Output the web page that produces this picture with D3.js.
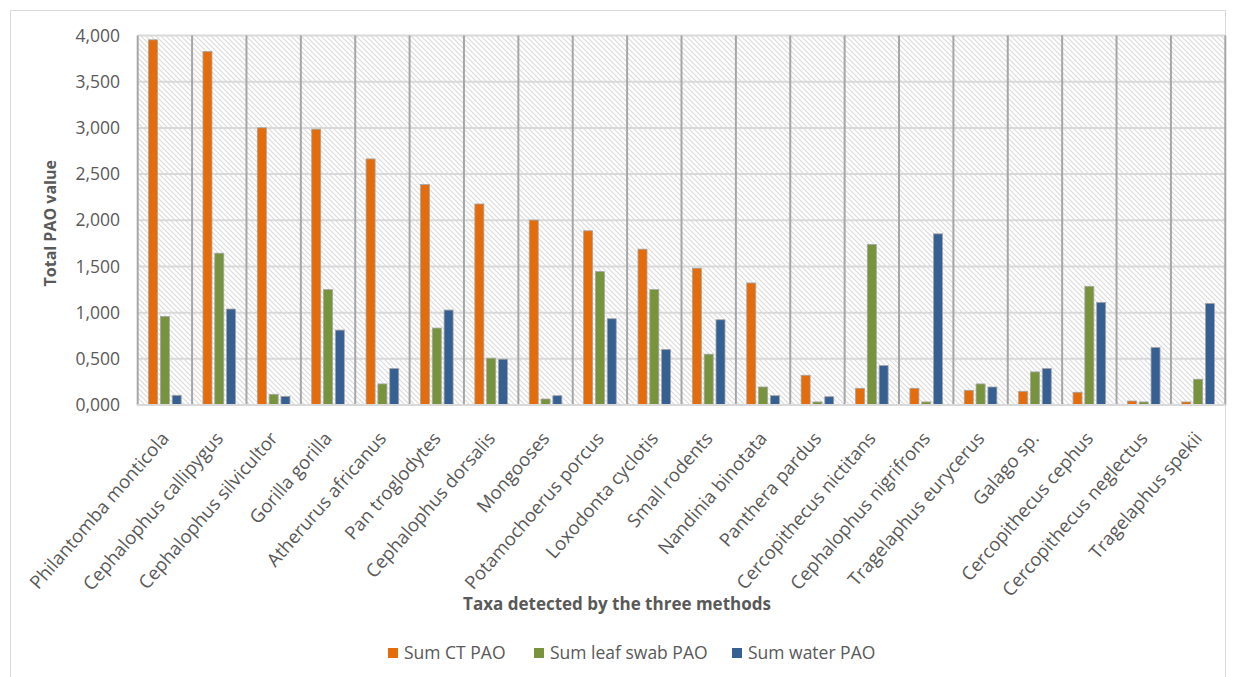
<!DOCTYPE html>
<html>
<head>
<meta charset="utf-8">
<script src="https://cdn.jsdelivr.net/npm/d3@7"></script>
<style>
  html, body { margin: 0; padding: 0; background: #fff; }
  svg { display: block; }
  text { font-family: "Open Sans", "DejaVu Sans", sans-serif; fill: #595959; }
</style>
</head>
<body>
<svg id="chart" width="1236" height="677"></svg>
<script>
// Taxa on the category axis
const taxa = [
  "Philantomba monticola", "Cephalophus callipygus", "Cephalophus silvicultor",
  "Gorilla gorilla", "Atherurus africanus", "Pan troglodytes", "Cephalophus dorsalis",
  "Mongooses", "Potamochoerus porcus", "Loxodonta cyclotis", "Small rodents",
  "Nandinia binotata", "Panthera pardus", "Cercopithecus nictitans",
  "Cephalophus nigrifrons", "Tragelaphus eurycerus", "Galago sp.",
  "Cercopithecus cephus", "Cercopithecus neglectus", "Tragelaphus spekii"
];

// Summed PAO values per method
const sumCT = [3.953, 3.826, 3.001, 2.986, 2.664, 2.386, 2.176, 2.002, 1.886, 1.687,
               1.481, 1.321, 0.322, 0.181, 0.181, 0.159, 0.148, 0.138, 0.043, 0.033];
const sumLeaf = [0.959, 1.643, 0.116, 1.249, 0.228, 0.833, 0.507, 0.065, 1.444, 1.249,
                 0.550, 0.195, 0.033, 1.738, 0.033, 0.228, 0.358, 1.285, 0.033, 0.279];
const sumWater = [0.105, 1.039, 0.094, 0.811, 0.395, 1.028, 0.496, 0.101, 0.934, 0.601,
                  0.923, 0.101, 0.090, 0.427, 1.853, 0.195, 0.395, 1.111, 0.623, 1.100];

const seriesNames = ["Sum CT PAO", "Sum leaf swab PAO", "Sum water PAO"];
const seriesColors = ["#E46C0A", "#77933C", "#376092"];

// Value axis ticks and their printed labels
const tickValues = [0, 0.5, 1, 1.5, 2, 2.5, 3, 3.5, 4];
const tickLabels = ["0,000", "0,500", "1,000", "1,500", "2,000", "2,500", "3,000", "3,500", "4,000"];

const xTitle = "Taxa detected by the three methods";
const yTitle = "Total PAO value";

const seriesValues = [sumCT, sumLeaf, sumWater];
const rows = taxa.map((t, i) => ({
  taxon: t,
  values: seriesNames.map((s, k) => ({ key: s, value: seriesValues[k][i], color: seriesColors[k] }))
}));

const svg = d3.select("#chart");
const plot = { left: 137.7, right: 1225.3, top: 35.5, bottom: 405 };

// Outer chart frame
svg.append("rect")
  .attr("x", 10.5).attr("y", 10.5)
  .attr("width", 1215).attr("height", 680)
  .attr("fill", "#fff").attr("stroke", "#d9d9d9").attr("stroke-width", 1);

// Diagonal hatch fill for the plot area
const defs = svg.append("defs");
const pat = defs.append("pattern")
  .attr("id", "hatch")
  .attr("patternUnits", "userSpaceOnUse")
  .attr("width", 5).attr("height", 5);
pat.append("rect").attr("width", 5).attr("height", 5).attr("fill", "#ffffff");
pat.append("path")
  .attr("d", "M-1,-1 L6,6 M-1,4 L1,6 M4,-1 L6,1")
  .attr("stroke", "#dcdcdc").attr("stroke-width", 1.2);

const x0 = d3.scaleBand().domain(taxa).range([plot.left, plot.right]).padding(0);
const bw = x0.bandwidth();
const x1 = d3.scaleBand().domain(seriesNames)
  .range([bw * 0.2, bw * 0.8])
  .paddingInner(0.237).paddingOuter(0);
const y = d3.scaleLinear().domain([0, 4]).range([plot.bottom, plot.top]);

svg.append("rect")
  .attr("x", plot.left).attr("y", plot.top)
  .attr("width", plot.right - plot.left).attr("height", plot.bottom - plot.top)
  .attr("fill", "url(#hatch)");

// Horizontal gridlines
svg.append("g")
  .selectAll("line").data(tickValues).join("line")
  .attr("x1", plot.left).attr("x2", plot.right)
  .attr("y1", d => y(d)).attr("y2", d => y(d))
  .attr("stroke", "#d9d9d9").attr("stroke-width", 2);

// Category separators
const seps = taxa.map(t => x0(t)).concat([plot.right]);
svg.append("g")
  .selectAll("line").data(seps).join("line")
  .attr("x1", d => d).attr("x2", d => d)
  .attr("y1", plot.top).attr("y2", plot.bottom)
  .attr("stroke", "#a6a6a6").attr("stroke-width", 2);

// Bars
const groups = svg.append("g").selectAll("g").data(rows).join("g")
  .attr("transform", d => `translate(${x0(d.taxon)},0)`);
groups.selectAll("rect").data(d => d.values).join("rect")
  .attr("x", d => x1(d.key))
  .attr("width", x1.bandwidth())
  .attr("y", d => y(d.value))
  .attr("height", d => plot.bottom - y(d.value))
  .attr("fill", d => d.color)
  .attr("stroke", "#a5a5a5").attr("stroke-width", 0.8);

// Category axis line
svg.append("line")
  .attr("x1", plot.left - 1).attr("x2", plot.right + 1)
  .attr("y1", plot.bottom).attr("y2", plot.bottom)
  .attr("stroke", "#d9d9d9").attr("stroke-width", 2);

// Value axis labels
const yAxis = d3.axisLeft(y).tickValues(tickValues)
  .tickFormat((d, i) => tickLabels[i]).tickSize(0).tickPadding(0);
const gy = svg.append("g").attr("transform", `translate(120,0)`).call(yAxis);
gy.select(".domain").remove();
gy.selectAll("text")
  .style("font-family", "'Open Sans', sans-serif")
  .attr("font-size", 17.5).attr("fill", "#595959");

// Category labels, rotated
const xAxis = d3.axisBottom(x0).tickSize(0).tickPadding(0);
const gx = svg.append("g").attr("transform", `translate(0,${plot.bottom})`).call(xAxis);
gx.select(".domain").remove();
gx.selectAll("text")
  .style("font-family", "'Open Sans', sans-serif")
  .attr("font-size", 18.5).attr("fill", "#595959")
  .attr("text-anchor", "end")
  .attr("dy", 0)
  .attr("y", 0)
  .attr("transform", `translate(5,34) rotate(-49)`);

// Axis titles
svg.append("text")
  .attr("x", 617).attr("y", 610)
  .attr("text-anchor", "middle")
  .attr("font-size", 17).attr("font-weight", "bold")
  .text(xTitle);

svg.append("text")
  .attr("transform", `translate(56,${(plot.top + plot.bottom) / 2 + 3}) rotate(-90)`)
  .attr("text-anchor", "middle")
  .attr("font-size", 16).attr("font-weight", "bold")
  .text(yTitle);

// Legend
const legendX = [388, 534, 732];
const legend = svg.append("g").selectAll("g").data(seriesNames).join("g")
  .attr("transform", (d, i) => `translate(${legendX[i]},653)`);
legend.append("rect")
  .attr("x", 0).attr("y", -5).attr("width", 10).attr("height", 10)
  .attr("fill", (d, i) => seriesColors[i]);
legend.append("text")
  .attr("x", 16).attr("y", 0).attr("dy", "0.35em")
  .attr("font-size", 17.5)
  .text(d => d);
</script>
</body>
</html>
